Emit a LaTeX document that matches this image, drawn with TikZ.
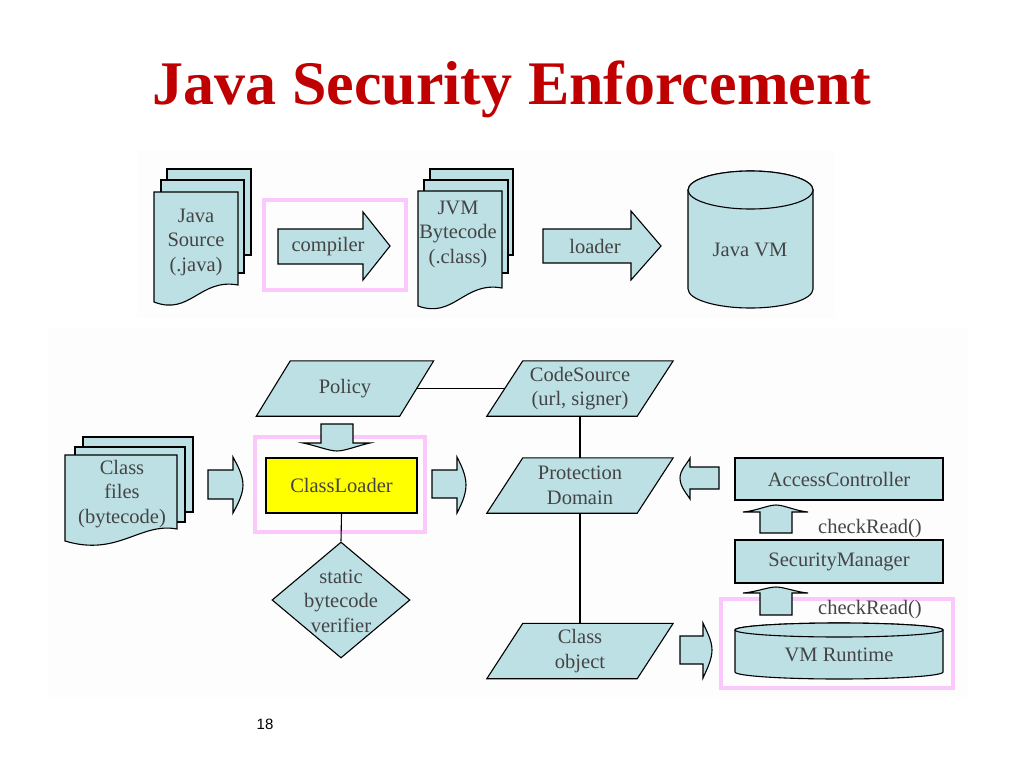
\documentclass[tikz,border=0pt]{standalone}
\usepackage{fontspec}
\setmainfont{Liberation Serif}
\newfontfamily\numfont{Liberation Sans}
\usetikzlibrary{calc,backgrounds,shapes.geometric}
\definecolor{shapefill}{RGB}{188,224,228}
\definecolor{txtgray}{RGB}{68,68,68}
\definecolor{pinkbox}{RGB}{250,200,250}
\definecolor{titlered}{RGB}{192,0,0}
\definecolor{panelbg}{RGB}{253,253,253}
\definecolor{clyellow}{RGB}{255,255,0}
\newcommand\paraback[2]{%
  \filldraw[shp] ($(#1.north west)+(#2,0)$) -- ($(#1.north east)+(#2,0)$) --
    ($(#1.south east)+(-#2,0)$) -- ($(#1.south west)+(-#2,0)$) -- cycle;}
\begin{document}
\begin{tikzpicture}[x=1pt,y=-1pt,
  shp/.style={fill=shapefill,draw=black,line width=1.1pt,line join=miter},
  lbl/.style={text=txtgray,font=\fontsize{20.5}{24.5}\selectfont,align=center,inner sep=0pt},
  rectbox/.style={shp,lbl,minimum width=208pt,minimum height=42pt},
  parabox/.style={lbl,minimum width=150pt,minimum height=55pt},
  pinkframe/.style={draw=pinkbox,line width=4pt},
  link/.style={draw=black,line width=1.1pt}]
\useasboundingbox (0,0) rectangle (1024,768);
\begin{pgfonlayer}{background}
\fill[white] (0,0) rectangle (1024,768);
\fill[panelbg] (137,150) rectangle (835,318);
\fill[panelbg] (48,328) rectangle (968,697);
\end{pgfonlayer}

% title
\node[font=\fontsize{62}{70}\selectfont\bfseries,text=titlered,anchor=base,inner sep=0pt]
  (title) at (512,104) {Java Security Enforcement};

% ---------- top row ----------
% Java source stack
\filldraw[shp] (167,169) rectangle (251,255);
\filldraw[shp] (161,180) rectangle (244,273);
\filldraw[shp] (154,192) -- (238,192) -- (238,285)
  .. controls (200,278) and (190,316) .. (154,302) -- cycle;
\node[lbl] (src) at (196,242) {Java\\Source\\(.java)};

% compiler arrow
\node[pinkframe,minimum width=142pt,minimum height=90pt,inner sep=0pt] (compframe) at (335,245) {};
\filldraw[shp] (278,229) -- (363,229) -- (363,212) -- (390,246) -- (363,280)
  -- (363,264) -- (278,264) -- cycle;
\node[lbl] (compiler) at (328,247) {compiler};

% JVM bytecode stack
\filldraw[shp] (430,169) rectangle (513,255);
\filldraw[shp] (424,180) rectangle (508,273);
\filldraw[shp] (418,191) -- (502,191) -- (502,288)
  .. controls (464,281) and (454,319) .. (418,306) -- cycle;
\node[lbl] (jvm) at (458,234) {JVM\\Bytecode\\(.class)};

% loader arrow
\filldraw[shp] (543,229) -- (631,229) -- (631,211) -- (661,246) -- (631,280)
  -- (631,263) -- (543,263) -- cycle;
\node[lbl] (loader) at (595,246) {loader};

% Java VM cylinder
\filldraw[shp] (688,190) -- (688,289) arc[start angle=180,end angle=0,x radius=62.5,y radius=19]
  -- (813,190) arc[start angle=0,end angle=-180,x radius=62.5,y radius=19] -- cycle;
\filldraw[shp] (750.5,190) ellipse[x radius=62.5,y radius=19];
\node[lbl] (javavm) at (750,250) {Java VM};

% ---------- bottom ----------
% class files stack
\filldraw[shp] (83,437) rectangle (193,512);
\filldraw[shp] (75,447) rectangle (185,522);
\filldraw[shp] (65,455) -- (177,455) -- (177,529)
  .. controls (140,522) and (118,557) .. (65,541) -- cycle;
\node[lbl] (files) at (122,494) {Class\\files\\(bytecode)};

% parallelograms
\node[lbl,minimum width=143pt,minimum height=55pt] (policy) at (345,388.5) {Policy};
\node[parabox] (cs) at (580,388.5) {CodeSource\\(url, signer)};
\node[parabox] (pd) at (580,485.5) {Protection\\Domain};
\node[parabox] (co) at (580,651) {Class\\object};
\begin{pgfonlayer}{background}
\paraback{policy}{17}
\paraback{cs}{18}
\paraback{pd}{18}
\paraback{co}{18}
\end{pgfonlayer}

% ClassLoader
\node[pinkframe,minimum width=170pt,minimum height=95pt,inner sep=0pt] (clframe) at (340,484.5) {};
\node[rectbox,fill=clyellow,minimum width=151pt,minimum height=55pt] (cl) at (341.5,485.5) {ClassLoader};

% verifier diamond
\node[diamond,shp,minimum width=138pt,minimum height=116pt,inner sep=0pt] (ver) at (341,600) {};
\node[lbl] (vertxt) at (341,601) {static\\bytecode\\verifier};

% right column
\node[rectbox] (ac) at (839,479) {AccessController};
\node[rectbox,minimum height=43pt] (sm) at (839,561.5) {SecurityManager};
\node[pinkframe,minimum width=232pt,minimum height=89pt,inner sep=0pt] (vmframe) at (837,643.5) {};
\filldraw[shp] (735,630) -- (735,672) arc[start angle=180,end angle=0,x radius=104,y radius=7]
  -- (943,630) arc[start angle=0,end angle=-180,x radius=104,y radius=7] -- cycle;
\filldraw[shp] (839,630) ellipse[x radius=104,y radius=7];
\node[lbl] (vmr) at (839,655) {VM Runtime};

% plain connectors
\draw[link] (policy.east) -- (cs.west);
\draw[link] (cs.south) -- (pd.north);
\draw[link] (pd.south) -- (co.north);
\draw[link] (cl.south) -- (ver.north);

% block arrows
% files -> ClassLoader
\filldraw[shp] (208,470) -- (233,470) -- (233,457) .. controls (236,463) and (243,474) .. (243,485)
  .. controls (243,496) and (236,507) .. (233,513) -- (233,499) -- (208,499) -- cycle;
% ClassLoader -> Protection Domain
\filldraw[shp] (432,470) -- (457,470) -- (457,457) .. controls (460,463) and (466,474) .. (466,485)
  .. controls (466,496) and (460,507) .. (457,513) -- (457,498) -- (432,498) -- cycle;
% Class object -> VM Runtime
\filldraw[shp] (680,636) -- (703,636) -- (703,623) .. controls (706,630) and (712,640) .. (712,650)
  .. controls (712,660) and (706,671) .. (703,678) -- (703,664) -- (680,664) -- cycle;
% AccessController -> Protection Domain
\filldraw[shp] (719,467) -- (690,467) -- (690,458) .. controls (687,464) and (680,470) .. (680,478)
  .. controls (680,487) and (687,494) .. (690,499) -- (690,489) -- (719,489) -- cycle;
% Policy -> ClassLoader
\filldraw[shp] (321,424) -- (353,424) -- (353,443) -- (370,443) .. controls (360,445) and (345,451) .. (337,451)
  .. controls (329,451) and (314,445) .. (303,443) -- (321,443) -- cycle;
% SecurityManager -> AccessController
\filldraw[shp] (760,533) -- (760,512) -- (743,512) .. controls (756,511) and (768,505) .. (776,505)
  .. controls (784,505) and (796,511) .. (808,512) -- (792,512) -- (792,533) -- cycle;
% VM Runtime -> SecurityManager
\filldraw[shp] (760,615) -- (760,593) -- (743,593) .. controls (756,592) and (768,587) .. (776,587)
  .. controls (784,587) and (796,592) .. (808,593) -- (792,593) -- (792,615) -- cycle;

\node[lbl] (cr1) at (870,529) {checkRead()};
\node[lbl] (cr2) at (870,610) {checkRead()};

% page number
\node[font=\numfont\fontsize{15}{18}\selectfont,inner sep=0pt] (pg) at (265,724) {18};
\end{tikzpicture}
\end{document}
